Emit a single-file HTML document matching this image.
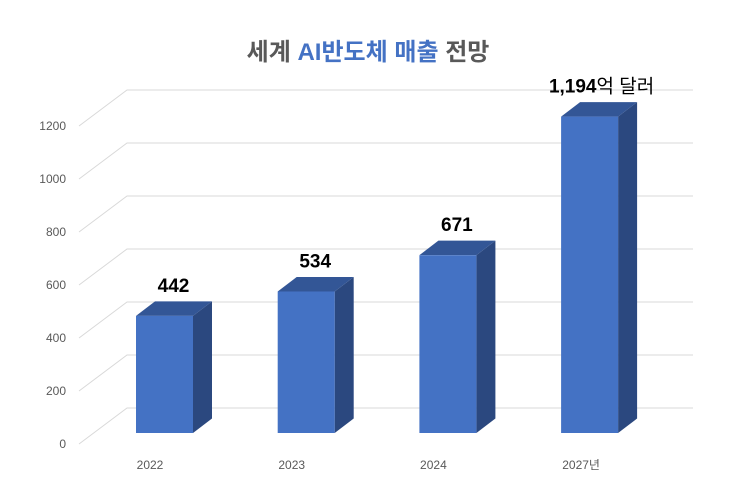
<!DOCTYPE html>
<html><head><meta charset="utf-8"><style>
html,body{margin:0;padding:0;background:#fff;}
svg{display:block;font-family:"Liberation Sans","Noto Sans CJK KR",sans-serif;}
</style></head><body>
<svg id="chart" width="731" height="500" viewBox="0 0 731 500" xmlns="http://www.w3.org/2000/svg">
<text x="368" y="60" text-anchor="middle" font-size="24" font-weight="bold" fill="#595959" font-family="Liberation Sans, Noto Sans CJK KR, sans-serif">세계 <tspan fill="#4472C4">AI반도체 매출</tspan> 전망</text>
<g id="grid"></g>
<g id="yticks"></g>
<g id="bars"></g>
<g id="xlabels"></g>
</svg>
<script>
const categories = ["2022","2023","2024","2027년"];
const values = [442,534,671,1194];
const valueLabels = ["442","534","671","1,194"];
const yTicks = [0,200,400,600,800,1000,1200];

const NS="http://www.w3.org/2000/svg";
function mk(tag,attrs,parent){const e=document.createElementNS(NS,tag);for(const k in attrs)e.setAttribute(k,attrs[k]);parent.appendChild(e);return e;}
const pxPerUnit=0.265;
const backY=v=>408-v*pxPerUnit;
const frontY=v=>444-v*pxPerUnit;
const barBaseY=433;
const barY=v=>barBaseY-v*pxPerUnit;
const barX=i=>136+i*141.7;
const barW=57, dx=19, dy=14.5;

const grid=document.getElementById('grid');
const yt=document.getElementById('yticks');
yTicks.forEach(t=>{
  const l=mk('polyline',{points:`79,${frontY(t)} 127,${backY(t)} 693,${backY(t)}`,fill:'none',stroke:'#d9d9d9','stroke-width':1},grid);
  
  
  const tx=mk('text',{x:66,y:frontY(t)+4,'text-anchor':'end','font-size':12,fill:'#595959'},yt);
  tx.textContent=t;
  
  
});

const bars=document.getElementById('bars');
const xl=document.getElementById('xlabels');
values.forEach((v,i)=>{
  const x=barX(i), y=barY(v);
  const g=mk('g',{},bars);
  
  
  mk('polygon',{points:`${x+barW},${y} ${x+barW+dx},${y-dy} ${x+barW+dx},${barBaseY-dy} ${x+barW},${barBaseY}`,fill:'#2B487F'},g);
  mk('polygon',{points:`${x},${y} ${x+dx},${y-dy} ${x+barW+dx},${y-dy} ${x+barW},${y}`,fill:'#335696'},g);
  mk('rect',{x:x,y:y,width:barW,height:barBaseY-y,fill:'#4472C4'},g);
  const lab=mk('text',{x:x+barW/2+9,y:y-24,'text-anchor':'middle','font-size':19,'font-weight':'bold',fill:'#000'},bars);
  lab.textContent=valueLabels[i];
  if(i===values.length-1){const ts=mk('tspan',{'font-weight':'normal'},lab);ts.textContent='억 달러';lab.setAttribute('x',x+barW/2+12);}
  
  
  const c=mk('text',{x:x+14+(i===3?6:0),y:469,'text-anchor':'middle','font-size':12,fill:'#595959'},xl);
  c.textContent=categories[i];
  
  
});
</script>
</body></html>
